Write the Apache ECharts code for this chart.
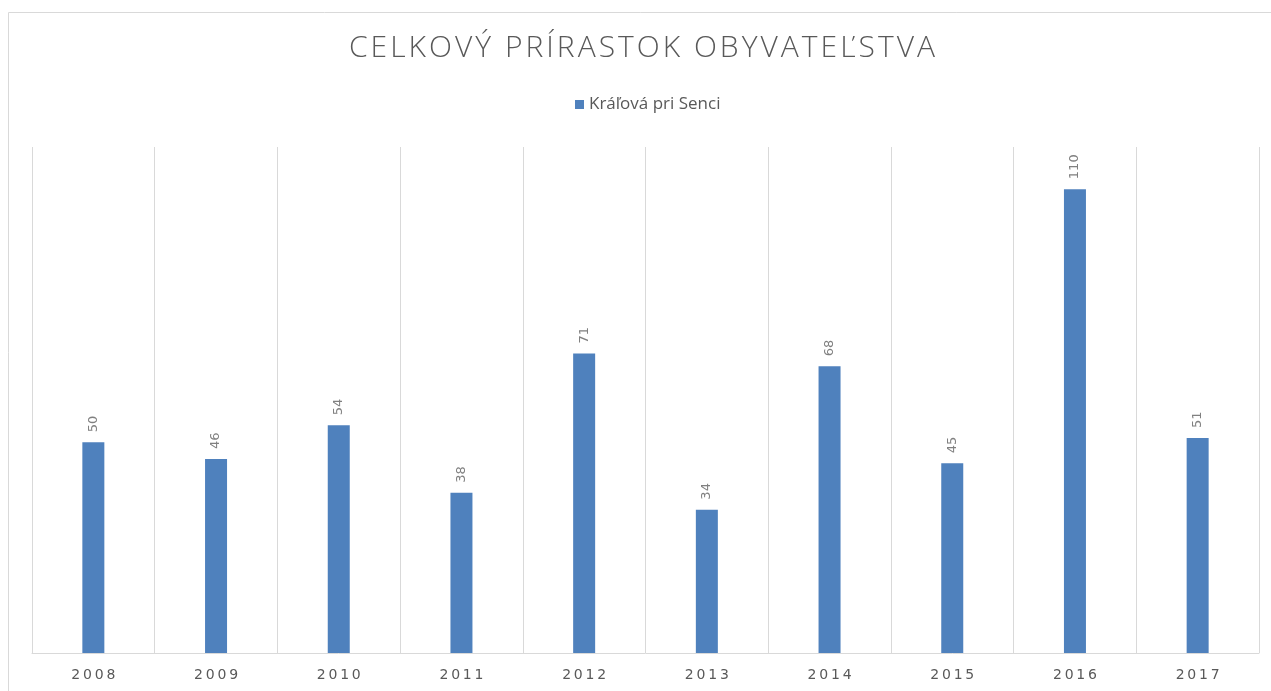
<!DOCTYPE html>
<html>
<head>
<meta charset="utf-8">
<script src="https://cdn.jsdelivr.net/npm/echarts@6/dist/echarts.min.js"></script>
<style>
  html, body { margin: 0; padding: 0; background: #fff; }
  #chart { width: 1271px; height: 691px; }
</style>
</head>
<body>
<div id="chart"></div>
<script>
// údaje
const years = ["2008", "2009", "2010", "2011", "2012", "2013", "2014", "2015", "2016", "2017"];
const prirastok = [50, 46, 54, 38, 71, 34, 68, 45, 110, 51];
const seriesName = "Kráľová pri Senci";
const titleText = "CELKOVÝ PRÍRASTOK OBYVATEĽSTVA";

// riedenie písmen (letter-spacing)
function spaced(s, sp) {
  return s.split("").join(sp);
}

let mychart = echarts.init(document.getElementById("chart"));
mychart.setOption({
  animation: false,
  title: {
    text: spaced(titleText, "\u200A"),
    left: 344,
    top: 28,
    textStyle: {
      color: "#595959",
      fontFamily: "Open Sans",
      fontWeight: 300,
      fontSize: 30,
    },
  },
  legend: {
    top: 91,
    left: 570,
    icon: "rect",
    itemWidth: 9,
    itemHeight: 9,
    itemGap: 5,
    textStyle: {
      color: "#595959",
      fontFamily: "Open Sans",
      fontSize: 17,
    },
  },
  graphic: [
    {
      type: "rect",
      shape: { x: 8.5, y: 12.5, width: 1300, height: 720 },
      style: { fill: "none", stroke: "#d9d9d9", lineWidth: 1 },
      z: -1,
    },
  ],
  grid: {
    left: 32,
    right: 12,
    top: 147,
    bottom: 38,
  },
  xAxis: {
    type: "category",
    data: years,
    axisTick: { show: false },
    axisLine: { lineStyle: { color: "#d9d9d9", width: 1 } },
    splitLine: { show: true, lineStyle: { color: "#d9d9d9", width: 1 } },
    axisLabel: {
      color: "#595959",
      fontFamily: "DejaVu Sans",
      fontSize: 14,
      margin: 15,
      formatter: function (v) {
        return spaced(v, "\u2009");
      },
    },
  },
  yAxis: {
    type: "value",
    min: 0,
    max: 120,
    show: false,
    splitLine: { show: false },
  },
  series: [
    {
      name: seriesName,
      type: "bar",
      data: prirastok,
      barWidth: 22,
      itemStyle: { color: "#4f81bd" },
      label: {
        show: true,
        position: "top",
        rotate: 90,
        align: "left",
        verticalAlign: "middle",
        distance: 10,
        color: "#808080",
        fontFamily: "DejaVu Sans",
        fontSize: 13,
      },
    },
  ],
});
</script>
</body>
</html>
